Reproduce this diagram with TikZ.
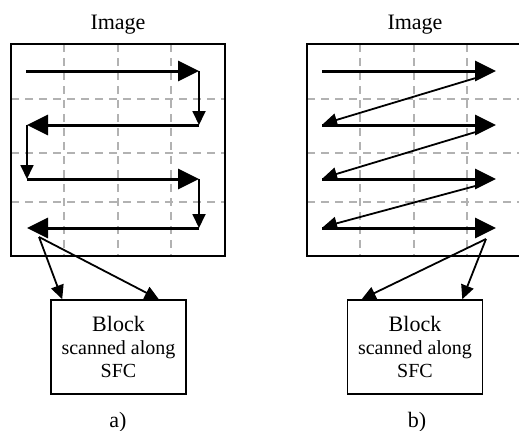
\documentclass[tikz,border=0pt]{standalone}
\usepackage{fontspec}
\setmainfont{Liberation Serif}
\usetikzlibrary{arrows.meta}

\begin{document}
\begin{tikzpicture}[x=0.5pt,y=-0.5pt,
    grid/.style={gray!60,line width=0.6pt,dash pattern=on 4pt off 3pt},
    scan/.style={line width=1.5pt,-{Triangle[length=10.5pt,width=10pt]}},
    hop/.style={line width=0.9pt,-{Triangle[length=7pt,width=6.5pt]}},
    frame/.style={draw,line width=0.8pt,inner sep=0pt},
    blockbox/.style={frame,minimum width=67.5pt,minimum height=47pt,align=center,
      font=\fontsize{10}{11.5}\selectfont},
    caption/.style={font=\fontsize{11}{13}\selectfont}]
\useasboundingbox (0,0) rectangle (519,430);

% a) boustrophedon scan
\foreach \x in {64,118,171} \draw[grid] (\x,44) -- (\x,256);
\foreach \y in {99,153,202} \draw[grid] (11,\y) -- (225,\y);
\node[frame,minimum width=107pt,minimum height=106pt] (imageA) at (118,150) {};
\node[caption] (titleA) at (118,25) {Image};

\draw[scan] (26,71) -- (199,71);
\draw[hop] (199,71) -- (199,125);
\draw[scan] (199,125) -- (27,125);
\draw[hop] (27,125) -- (27,179);
\draw[scan] (27,179) -- (199,179);
\draw[hop] (199,179) -- (199,228);
\draw[scan] (199,228) -- (27,228);

\node[blockbox] (blockA) at (118.5,347) {{\fontsize{11}{12}\selectfont Block}\\scanned along\\SFC};
\coordinate (fanA) at (39,237);
\draw[hop] (fanA) -- ([xshift=6pt]blockA.north west);
\draw[hop] (fanA) -- ([xshift=-14pt]blockA.north east);
\node[caption] (labelA) at (118,422) {a)};

% b) raster scan
\foreach \x in {360,414,467} \draw[grid] (\x,44) -- (\x,256);
\foreach \y in {99,153,202} \draw[grid] (307,\y) -- (521,\y);
\node[frame,minimum width=107pt,minimum height=106pt] (imageB) at (414,150) {};
\node[caption] (titleB) at (415,25) {Image};

\foreach \y in {71,125,179,228} \draw[scan] (322,\y) -- (496,\y);
\draw[hop] (479,77) -- (323,124);
\draw[hop] (479,131) -- (323,178);
\draw[hop] (479,185) -- (323,227);

\node[blockbox] (blockB) at (415,347) {{\fontsize{11}{12}\selectfont Block}\\scanned along\\SFC};
\coordinate (fanB) at (486,239);
\draw[hop] (fanB) -- ([xshift=7.5pt]blockB.north west);
\draw[hop] (fanB) -- ([xshift=-10.5pt]blockB.north east);
\node[caption] (labelB) at (417,422) {b)};
\end{tikzpicture}
\end{document}
